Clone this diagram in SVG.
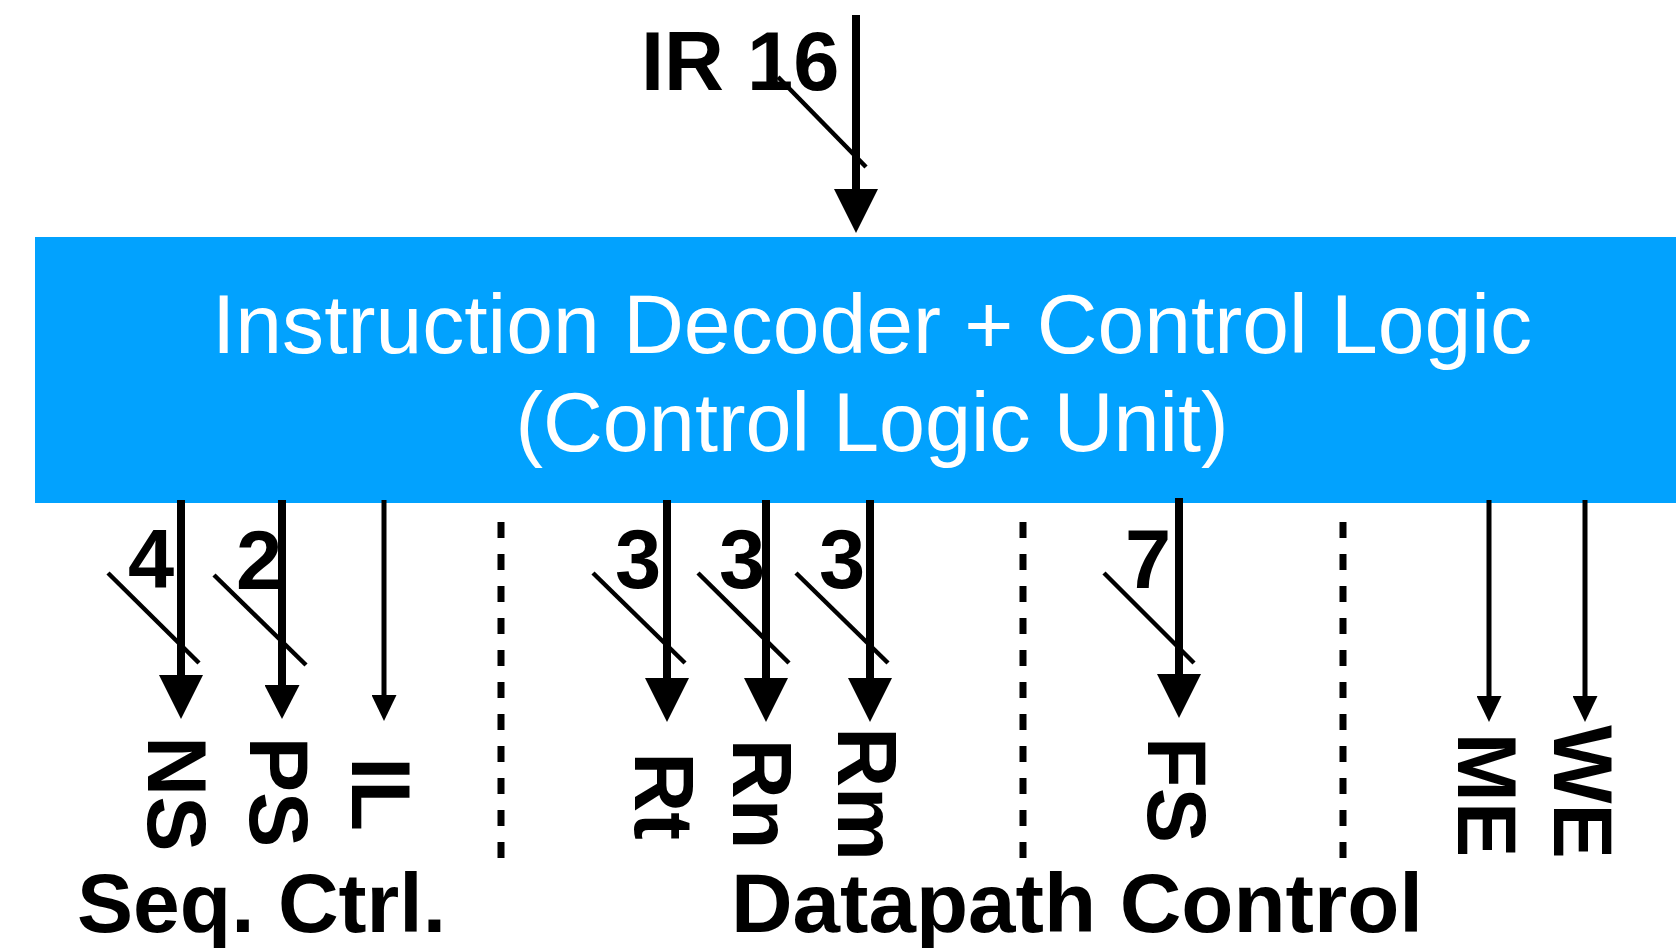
<svg xmlns="http://www.w3.org/2000/svg" width="1676" height="948" viewBox="0 0 1676 948">
  <style>
    .blk { fill: #02A2FE; }
    .title { font-family: "Liberation Sans", Arial, sans-serif; font-size: 83px; fill: #ffffff; text-anchor: middle; }
    .lbl { font-family: "Liberation Sans", Arial, sans-serif; font-weight: bold; font-size: 83px; fill: #000000; }
    .mid { text-anchor: middle; }
    .bus { stroke: #000; stroke-width: 8; fill: none; }
    .wire { stroke: #000; stroke-width: 5; fill: none; }
    .slash { stroke: #000; stroke-width: 4.5; fill: none; }
    .sep { stroke: #000; stroke-width: 7; stroke-dasharray: 16 16; fill: none; }
  </style>
  <defs>
    <marker id="hBig" markerUnits="userSpaceOnUse" viewBox="0 0 44 44" refX="24" refY="22" markerWidth="44" markerHeight="44" orient="auto">
      <path d="M0,0 L44,22 L0,44 Z" fill="#000"/>
    </marker>
    <marker id="hMid" markerUnits="userSpaceOnUse" viewBox="0 0 34 35" refX="16" refY="17.5" markerWidth="34" markerHeight="35" orient="auto">
      <path d="M0,0 L34,17.5 L0,35 Z" fill="#000"/>
    </marker>
    <marker id="hThin" markerUnits="userSpaceOnUse" viewBox="0 0 26 25" refX="14" refY="12.5" markerWidth="26" markerHeight="25" orient="auto">
      <path d="M0,0 L26,12.5 L0,25 Z" fill="#000"/>
    </marker>
  </defs>

  <g id="control-logic-unit">
    <rect class="blk" x="35" y="237" width="1641" height="266"/>
    <text class="title" x="872" y="353" textLength="1320" lengthAdjust="spacingAndGlyphs">Instruction Decoder + Control Logic</text>
    <text class="title" x="872" y="451" textLength="713" lengthAdjust="spacingAndGlyphs">(Control Logic Unit)</text>
  </g>

  <g id="connectors">
    <!-- IR input -->
    <path class="bus" d="M856,15 L856,213" marker-end="url(#hBig)"/>
    <path class="slash" d="M778,77 L866,167"/>
    <!-- outputs -->
    <path class="bus" d="M181,500 L181,699" marker-end="url(#hBig)"/>
    <path class="slash" d="M108,573 L199,663"/>
    <path class="bus" d="M282,500 L282,701" marker-end="url(#hMid)"/>
    <path class="slash" d="M214,575 L306,665"/>
    <path class="wire" d="M384,500 L384,709" marker-end="url(#hThin)"/>
    <path class="bus" d="M667,500 L667,702" marker-end="url(#hBig)"/>
    <path class="slash" d="M593,573 L685,663"/>
    <path class="bus" d="M766,500 L766,702" marker-end="url(#hBig)"/>
    <path class="slash" d="M698,573 L789,663"/>
    <path class="bus" d="M870,500 L870,702" marker-end="url(#hBig)"/>
    <path class="slash" d="M796,573 L888,663"/>
    <path class="bus" d="M1179,498 L1179,698" marker-end="url(#hBig)"/>
    <path class="slash" d="M1104,573 L1194,663"/>
    <path class="wire" d="M1489,500 L1489,710" marker-end="url(#hThin)"/>
    <path class="wire" d="M1585,500 L1585,710" marker-end="url(#hThin)"/>
    <!-- group separators -->
    <path class="sep" d="M501,522 L501,858"/>
    <path class="sep" d="M1023,522 L1023,858"/>
    <path class="sep" d="M1343,522 L1343,858"/>
  </g>

  <g id="bus-widths">
    <text class="lbl" x="641" y="90">IR 16</text>
    <text class="lbl mid" x="151" y="588">4</text>
    <text class="lbl mid" x="259" y="589">2</text>
    <text class="lbl mid" x="638" y="588">3</text>
    <text class="lbl mid" x="742" y="588">3</text>
    <text class="lbl mid" x="842" y="588">3</text>
    <text class="lbl mid" x="1148" y="588">7</text>
  </g>

  <g id="sig-NS" transform="translate(148,794) rotate(90)"><text class="lbl mid" x="0" y="0">NS</text></g>
  <g id="sig-PS" transform="translate(250,792) rotate(90)"><text class="lbl mid" x="0" y="0">PS</text></g>
  <g id="sig-IL" transform="translate(352,794) rotate(90)"><text class="lbl mid" x="0" y="0">IL</text></g>
  <g id="sig-Rt" transform="translate(635,796) rotate(90)"><text class="lbl mid" x="0" y="0">Rt</text></g>
  <g id="sig-Rn" transform="translate(733,794) rotate(90)"><text class="lbl mid" x="0" y="0">Rn</text></g>
  <g id="sig-Rm" transform="translate(838,794) rotate(90)"><text class="lbl mid" x="0" y="0">Rm</text></g>
  <g id="sig-FS" transform="translate(1148,790) rotate(90)"><text class="lbl mid" x="0" y="0">FS</text></g>
  <g id="sig-ME" transform="translate(1458,795) rotate(90)"><text class="lbl mid" x="0" y="0">ME</text></g>
  <g id="sig-WE" transform="translate(1554,792) rotate(90)"><text class="lbl mid" x="0" y="0">WE</text></g>

  <g id="group-seq">
    <text class="lbl" x="77" y="932" textLength="369" lengthAdjust="spacingAndGlyphs">Seq. Ctrl.</text>
  </g>
  <g id="group-datapath">
    <text class="lbl" x="731" y="932" textLength="692" lengthAdjust="spacingAndGlyphs">Datapath Control</text>
  </g>
</svg>
